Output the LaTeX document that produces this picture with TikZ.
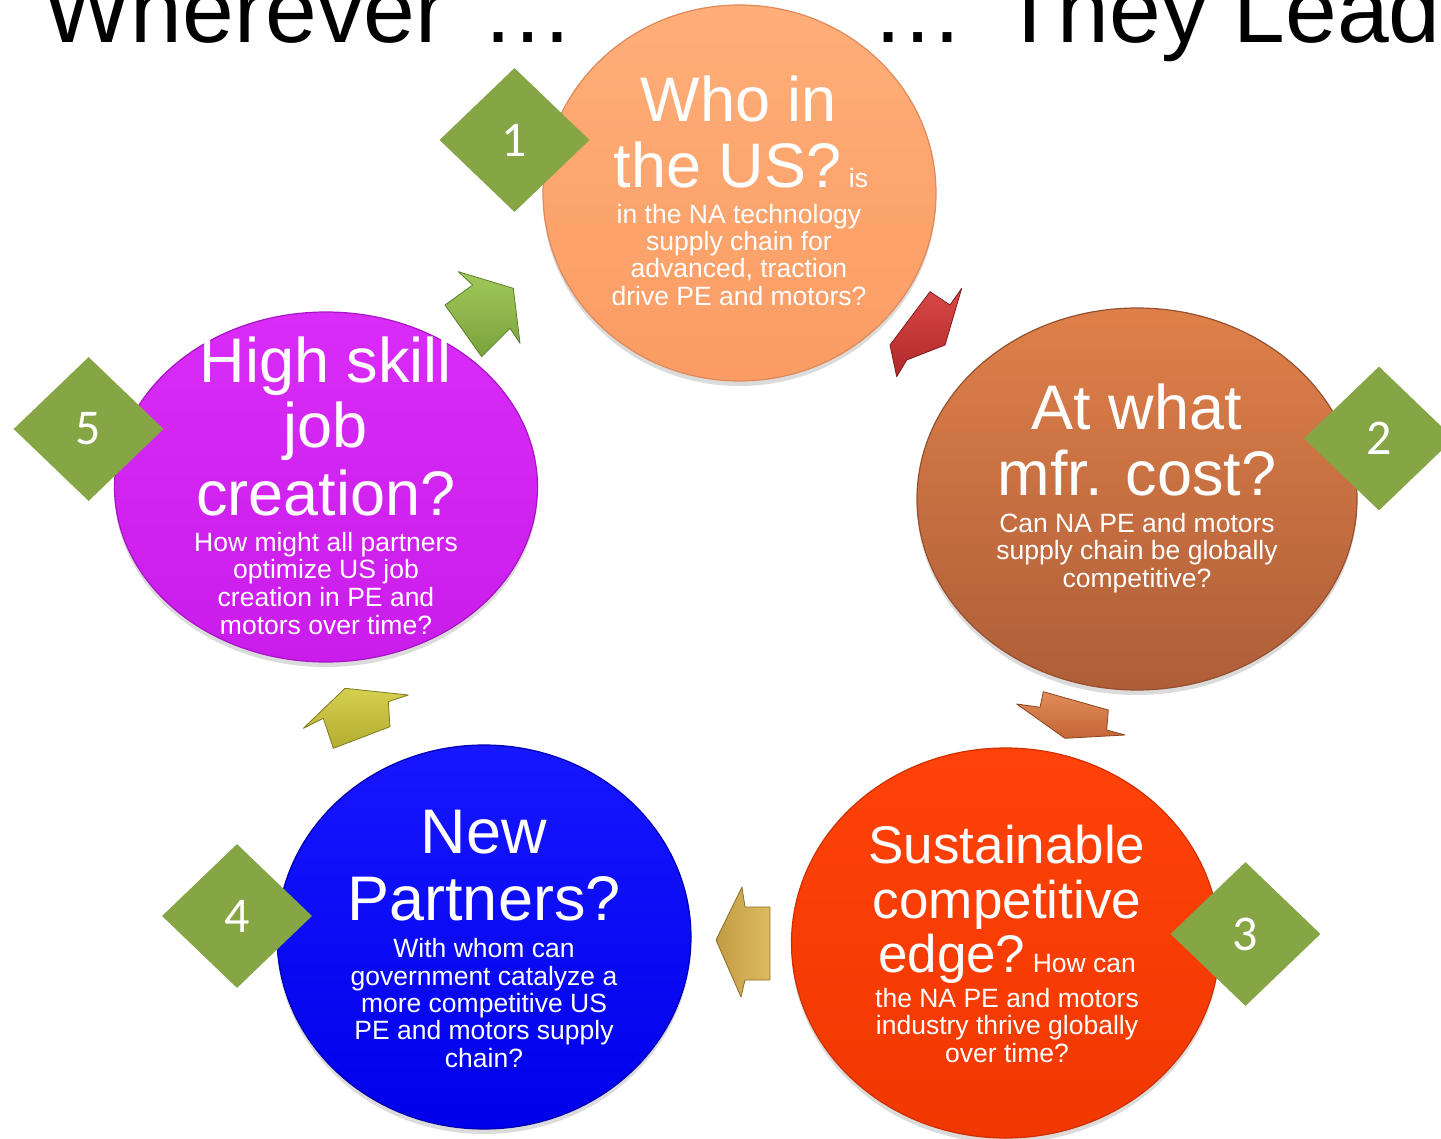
\documentclass[tikz,border=0pt]{standalone}
\usepackage{fontspec}
\setmainfont{Liberation Sans}
\newfontfamily\digitfont{Carlito}
\usetikzlibrary{shapes.geometric,shadows}
\definecolor{numgreen}{HTML}{86A545}
\definecolor{cOneTop}{HTML}{FFAE78}
\definecolor{cOneBot}{HTML}{FA9C64}
\definecolor{cOneLine}{HTML}{E0895A}
\definecolor{cTwoTop}{HTML}{DF804A}
\definecolor{cTwoBot}{HTML}{AE5E38}
\definecolor{cTwoLine}{HTML}{955030}
\definecolor{cThrTop}{HTML}{FF4209}
\definecolor{cThrBot}{HTML}{F03800}
\definecolor{cThrLine}{HTML}{D03000}
\definecolor{cFouTop}{HTML}{1616FF}
\definecolor{cFouBot}{HTML}{0000EA}
\definecolor{cFouLine}{HTML}{0000B0}
\definecolor{cFivTop}{HTML}{DA2CF8}
\definecolor{cFivBot}{HTML}{CA1CEA}
\definecolor{cFivLine}{HTML}{A815C4}
\definecolor{agTop}{HTML}{A0C95A}
\definecolor{agBot}{HTML}{7AA23C}
\definecolor{agLine}{HTML}{5E7F2C}
\definecolor{arTop}{HTML}{DA4848}
\definecolor{arBot}{HTML}{B02828}
\definecolor{arLine}{HTML}{7E1C1C}
\definecolor{aoTop}{HTML}{E28C58}
\definecolor{aoBot}{HTML}{C26636}
\definecolor{aoLine}{HTML}{8A4520}
\definecolor{aqLeft}{HTML}{C29C42}
\definecolor{aqRight}{HTML}{DDBA60}
\definecolor{aqLine}{HTML}{8A6E28}
\definecolor{ayTop}{HTML}{D6D050}
\definecolor{ayBot}{HTML}{B2AC30}
\definecolor{ayLine}{HTML}{7E7A20}
\newcommand\subsz{\fontsize{26.5}{27.5}\selectfont}
\begin{document}
\begin{tikzpicture}[x=1pt,y=-1pt,
  bubble/.style={ellipse, inner sep=0pt, line width=1.2pt,
    drop shadow={opacity=0.28, shadow xshift=0pt, shadow yshift=-5pt}},
  bigtxt/.style={text=white, font=\fontsize{63}{66}\selectfont, anchor=base, inner sep=0pt},
  midtxt/.style={text=white, font=\fontsize{53}{55}\selectfont, anchor=base, inner sep=0pt},
  subtxt/.style={text=white, font=\subsz, anchor=base, inner sep=0pt},
  titletxt/.style={text=black, font=\fontsize{93}{100}\selectfont, anchor=base west, inner sep=0pt},
  numbox/.style={diamond, fill=numgreen, minimum width=150pt, minimum height=144pt,
    inner sep=0pt, text=white, font=\digitfont\fontsize{50}{50}\selectfont},
  blockarrow/.style={line width=0.8pt, line join=round}
]
\useasboundingbox (0,0) rectangle (1441,1139);
\fill[white] (0,0) rectangle (1441,1139);

% title
\node[titletxt] (tleft) at (43,43) {Wherever\hspace{0.1em} …};
\node[titletxt] (tright) at (871,43) {…\hspace{0.12em} They Lead};

% circles
\node[bubble, minimum width=393pt, minimum height=376pt, top color=cOneTop, bottom color=cOneBot, draw=cOneLine] (c1) at (739.5,193) {};
\node[bubble, minimum width=440pt, minimum height=382pt, top color=cTwoTop, bottom color=cTwoBot, draw=cTwoLine] (c2) at (1137,499) {};
\node[bubble, minimum width=428pt, minimum height=390pt, top color=cThrTop, bottom color=cThrBot, draw=cThrLine] (c3) at (1005.5,943) {};
\node[bubble, minimum width=414pt, minimum height=384pt, top color=cFouTop, bottom color=cFouBot, draw=cFouLine] (c4) at (484,937) {};
\node[bubble, minimum width=423pt, minimum height=350pt, top color=cFivTop, bottom color=cFivBot, draw=cFivLine] (c5) at (326,487) {};

% block arrows
\path[blockarrow, top color=agTop, bottom color=agBot, draw=agLine]
  (445,305) -- (472.7,285) -- (458.3,271.7) -- (513.3,288.3) -- (520,343.3) -- (510,328.3) -- (481.7,356.7) -- cycle;
\path[blockarrow, top color=arTop, bottom color=arBot, draw=arLine]
  (930,291.7) -- (950,305) -- (961.7,288.3) -- (945,345) -- (906.7,360) -- (896.7,376.7) -- (890,345) -- cycle;
\path[blockarrow, top color=aoTop, bottom color=aoBot, draw=aoLine]
  (1043.3,691.7) -- (1108.3,710) -- (1106.7,730) -- (1125,735) -- (1065,738.3) -- (1016.7,704) -- (1040,707.3) -- cycle;
\path[blockarrow, left color=aqLeft, right color=aqRight, draw=aqLine]
  (742,887) -- (745,907) -- (770,907) -- (770,980) -- (745,980) -- (741,997) -- (716,940) -- cycle;
\path[blockarrow, top color=ayTop, bottom color=ayBot, draw=ayLine]
  (345,688.3) -- (408.3,695) -- (388.3,701.7) -- (390,726.7) -- (333.3,748.3) -- (323.3,718.3) -- (303.3,728.3) -- cycle;

% circle 1 text
\node[bigtxt] (c1a) at (739,122) {Who in};
\node[bigtxt] (c1b) at (741,188) {the US?{\subsz\ is}};
\node[subtxt] (c1c) at (739,224) {in the NA technology};
\node[subtxt] (c1d) at (739,251) {supply chain for};
\node[subtxt] (c1e) at (739,278) {advanced, traction};
\node[subtxt] (c1f) at (739,306) {drive PE and motors?};

% circle 2 text
\node[bigtxt] (c2a) at (1137,430) {At what};
\node[bigtxt] (c2b) at (1137,495) {mfr. cost?};
\node[subtxt] (c2c) at (1137,532) {Can NA PE and motors};
\node[subtxt] (c2d) at (1137,559) {supply chain be globally};
\node[subtxt] (c2e) at (1137,587) {competitive?};

% circle 3 text
\node[midtxt] (c3a) at (1007,863) {Sustainable};
\node[midtxt] (c3b) at (1007,918) {competitive};
\node[midtxt] (c3c) at (1007,972) {edge?{\subsz\ How can}};
\node[subtxt] (c3d) at (1007,1007) {the NA PE and motors};
\node[subtxt] (c3e) at (1007,1034) {industry thrive globally};
\node[subtxt] (c3f) at (1007,1062) {over time?};

% circle 4 text
\node[bigtxt] (c4a) at (484,853) {New};
\node[bigtxt] (c4b) at (484,920) {Partners?};
\node[subtxt] (c4c) at (484,957) {With whom can};
\node[subtxt] (c4d) at (484,985) {government catalyze a};
\node[subtxt] (c4e) at (484,1012) {more competitive US};
\node[subtxt] (c4f) at (484,1039) {PE and motors supply};
\node[subtxt] (c4g) at (484,1067) {chain?};

% circle 5 text
\node[bigtxt] (c5a) at (326,383) {High skill};
\node[bigtxt] (c5b) at (326,448) {job};
\node[bigtxt] (c5c) at (326,515) {creation?};
\node[subtxt] (c5d) at (326,551) {How might all partners};
\node[subtxt] (c5e) at (326,578) {optimize US job};
\node[subtxt] (c5f) at (326,606) {creation in PE and};
\node[subtxt] (c5g) at (326,634) {motors over time?};

% numbered diamonds
\node[numbox] (n1) at (514.5,140) {1};
\node[numbox] (n2) at (1379,438.5) {2};
\node[numbox] (n3) at (1245.5,934) {3};
\node[numbox] (n4) at (237,916) {4};
\node[numbox] (n5) at (88.6,429) {5};
\end{tikzpicture}
\end{document}
